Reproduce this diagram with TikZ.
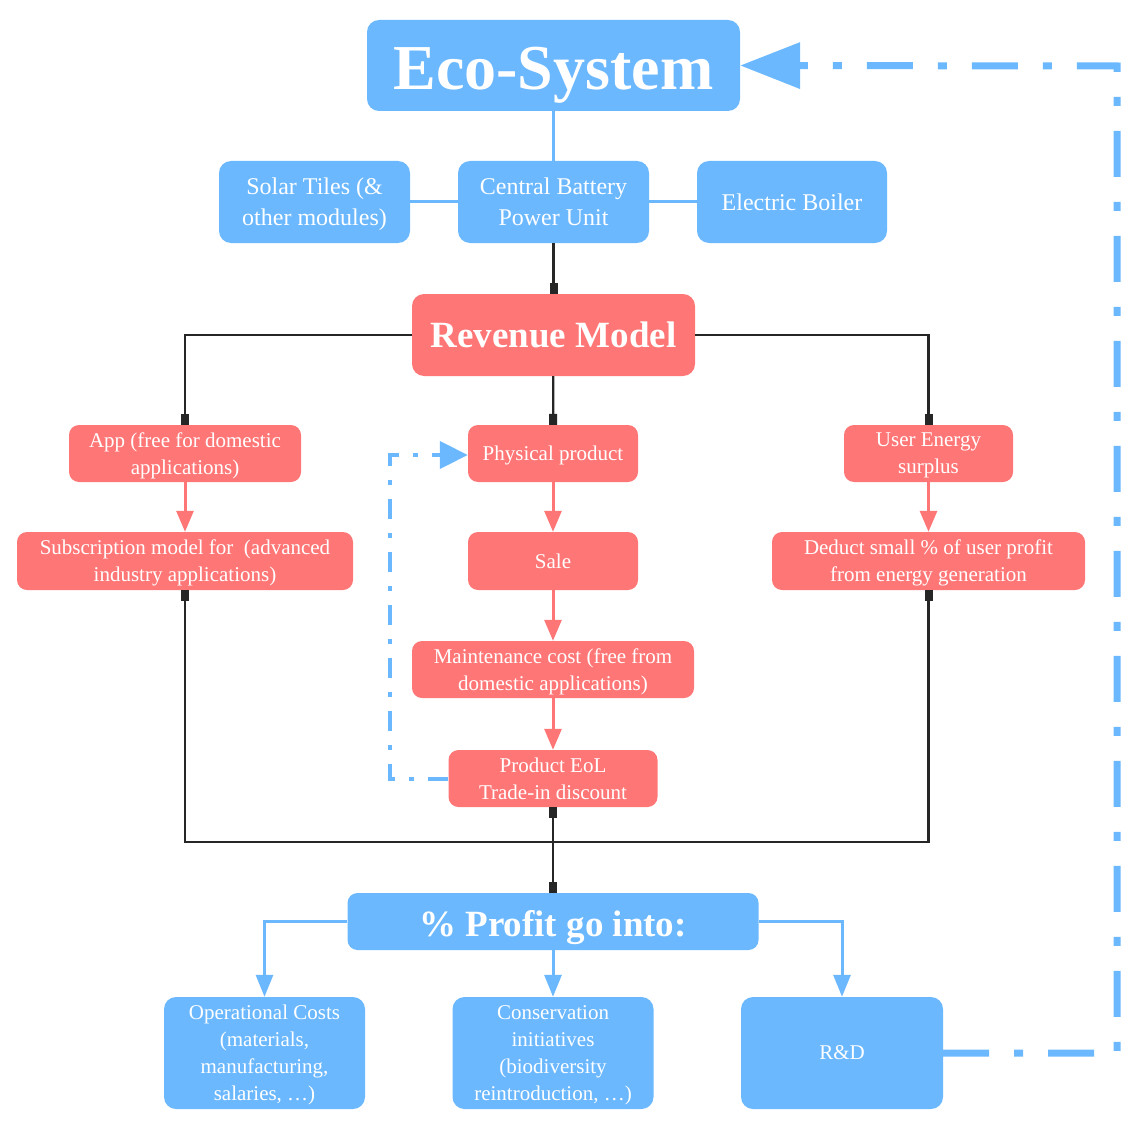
\documentclass[tikz,border=0pt]{standalone}
\usepackage{fontspec}
\setmainfont{Liberation Serif}
\usetikzlibrary{arrows.meta}
\definecolor{ecoblue}{RGB}{107,184,255}
\definecolor{revred}{RGB}{255,118,118}

\begin{document}
\begin{tikzpicture}
[every node/.style={inner sep=0pt, align=center, text=white},
 bluebox/.style={rectangle, rounded corners=12pt, fill=ecoblue},
 redbox/.style={rectangle, rounded corners=10pt, fill=revred},
 smalltext/.style={font=\fontsize{21}{27}\selectfont, text depth=0pt},
 midtext/.style={font=\fontsize{24}{31}\selectfont, text depth=0pt},
 bigtext/.style={font=\fontsize{37}{44}\selectfont\bfseries},
 blkline/.style={line width=2.2pt, color=black!85},
 sq/.tip={Square[length=11pt, width=8pt]},
 blueline/.style={line width=3pt, color=ecoblue},
 bluearrow/.style={line width=3pt, color=ecoblue, -{Triangle[length=22pt, width=17pt]}},
 redarrow/.style={line width=3pt, color=revred, -{Triangle[length=21pt, width=17pt]}},
 bigloop/.style={line width=7pt, color=ecoblue, dash pattern=on 46pt off 25pt on 9pt off 25pt, -{Triangle[length=60pt, width=45pt]}},
 smallloop/.style={line width=4pt, color=ecoblue, dash pattern=on 20pt off 14pt on 5pt off 14pt, -{Triangle[length=28pt, width=27pt]}}]
\useasboundingbox (0pt, 0pt) rectangle (1148pt, -1134pt);
% eco-system part
\node (eco) [bluebox, minimum width=373pt, minimum height=91pt, text height=49pt, text depth=0pt, font=\fontsize{64}{70}\selectfont\bfseries] at (553.5pt, -65.5pt) {Eco-System};
\node (solar) [bluebox, midtext, minimum width=191pt, minimum height=82pt] at (314.5pt, -202pt) {Solar Tiles (\&\\other modules)};
\node (central) [bluebox, midtext, minimum width=191pt, minimum height=82pt] at (553.5pt, -202pt) {Central Battery\\Power Unit};
\node (boiler) [bluebox, midtext, minimum width=190pt, minimum height=82pt] at (792pt, -202pt) {Electric Boiler};
% revenue model part
\node (revenue) [redbox, bigtext, rounded corners=12pt, minimum width=283pt, minimum height=82pt] at (553.5pt, -335pt) {Revenue Model};
\node (app) [redbox, smalltext, minimum width=232pt, minimum height=57pt] at (185pt, -453.5pt) {App (free for domestic\\applications)};
\node (physical) [redbox, smalltext, minimum width=170pt, minimum height=57pt] at (553pt, -453.5pt) {Physical product};
\node (user) [redbox, smalltext, minimum width=169pt, minimum height=57pt] at (928.5pt, -453.5pt) {User Energy\\surplus};
\node (subscr) [redbox, smalltext, minimum width=336pt, minimum height=58pt] at (185pt, -561pt) {Subscription model for~ (advanced\\industry applications)};
\node (sale) [redbox, smalltext, minimum width=170pt, minimum height=58pt] at (553pt, -561pt) {Sale};
\node (deduct) [redbox, smalltext, minimum width=313pt, minimum height=58pt] at (928.5pt, -561pt) {Deduct small \% of user profit\\from energy generation};
\node (maint) [redbox, smalltext, minimum width=282pt, minimum height=57pt] at (553pt, -669.5pt) {Maintenance cost (free from\\domestic applications)};
\node (eol) [redbox, smalltext, minimum width=209pt, minimum height=57pt] at (553pt, -778.5pt) {Product EoL\\Trade-in discount};
% profit part
\node (profit) [bluebox, bigtext, rounded corners=10pt, minimum width=411pt, minimum height=57pt, text height=30pt, text depth=0pt] at (553pt, -921.5pt) {\% Profit go into:};
\node (opcost) [bluebox, smalltext, minimum width=201pt, minimum height=112pt] at (264.5pt, -1053pt) {Operational Costs\\(materials,\\manufacturing,\\salaries, \dots)};
\node (conserv) [bluebox, smalltext, minimum width=201pt, minimum height=112pt] at (553pt, -1053pt) {Conservation\\initiatives\\(biodiversity\\reintroduction, \dots)};
\node (rnd) [bluebox, smalltext, minimum width=202pt, minimum height=112pt] at (842pt, -1053pt) {R\&D};
\coordinate (bus) at (553pt, -842pt);
\coordinate (loopbr) at (1117pt, -1053pt);
\coordinate (looptr) at (1117pt, -66pt);
\coordinate (backbl) at (390pt, -778.5pt);
\coordinate (backtl) at (390pt, -455pt);
\draw [blueline] (eco) to (central);
\draw [blueline] (solar) to (central);
\draw [blueline] (central) to (boiler);
\draw [blkline, -sq] (central) to (revenue);
\draw [blkline, -sq] (revenue.west) -| (app.north);
\draw [blkline, -sq] (revenue.east) -| (user.north);
\draw [blkline, -sq] (revenue) to (physical);
\draw [redarrow] (app) to (subscr);
\draw [redarrow] (physical) to (sale);
\draw [redarrow] (sale) to (maint);
\draw [redarrow] (maint) to (eol);
\draw [redarrow] (user) to (deduct);
\draw [blkline, sq-sq] (subscr.south) |- (bus) -| (deduct.south);
\draw [blkline, sq-sq] (eol) to (profit);
\draw [bluearrow] (profit.west) -| (opcost.north);
\draw [bluearrow] (profit) to (conserv);
\draw [bluearrow] (profit.east) -| (rnd.north);
\draw [smallloop] (eol.west) -- (backbl) -- (backtl) -- (physical.west |- backtl);
\draw [bigloop] (rnd.east) -- (loopbr) -- (looptr) -- (eco.east);
\end{tikzpicture}
\end{document}
